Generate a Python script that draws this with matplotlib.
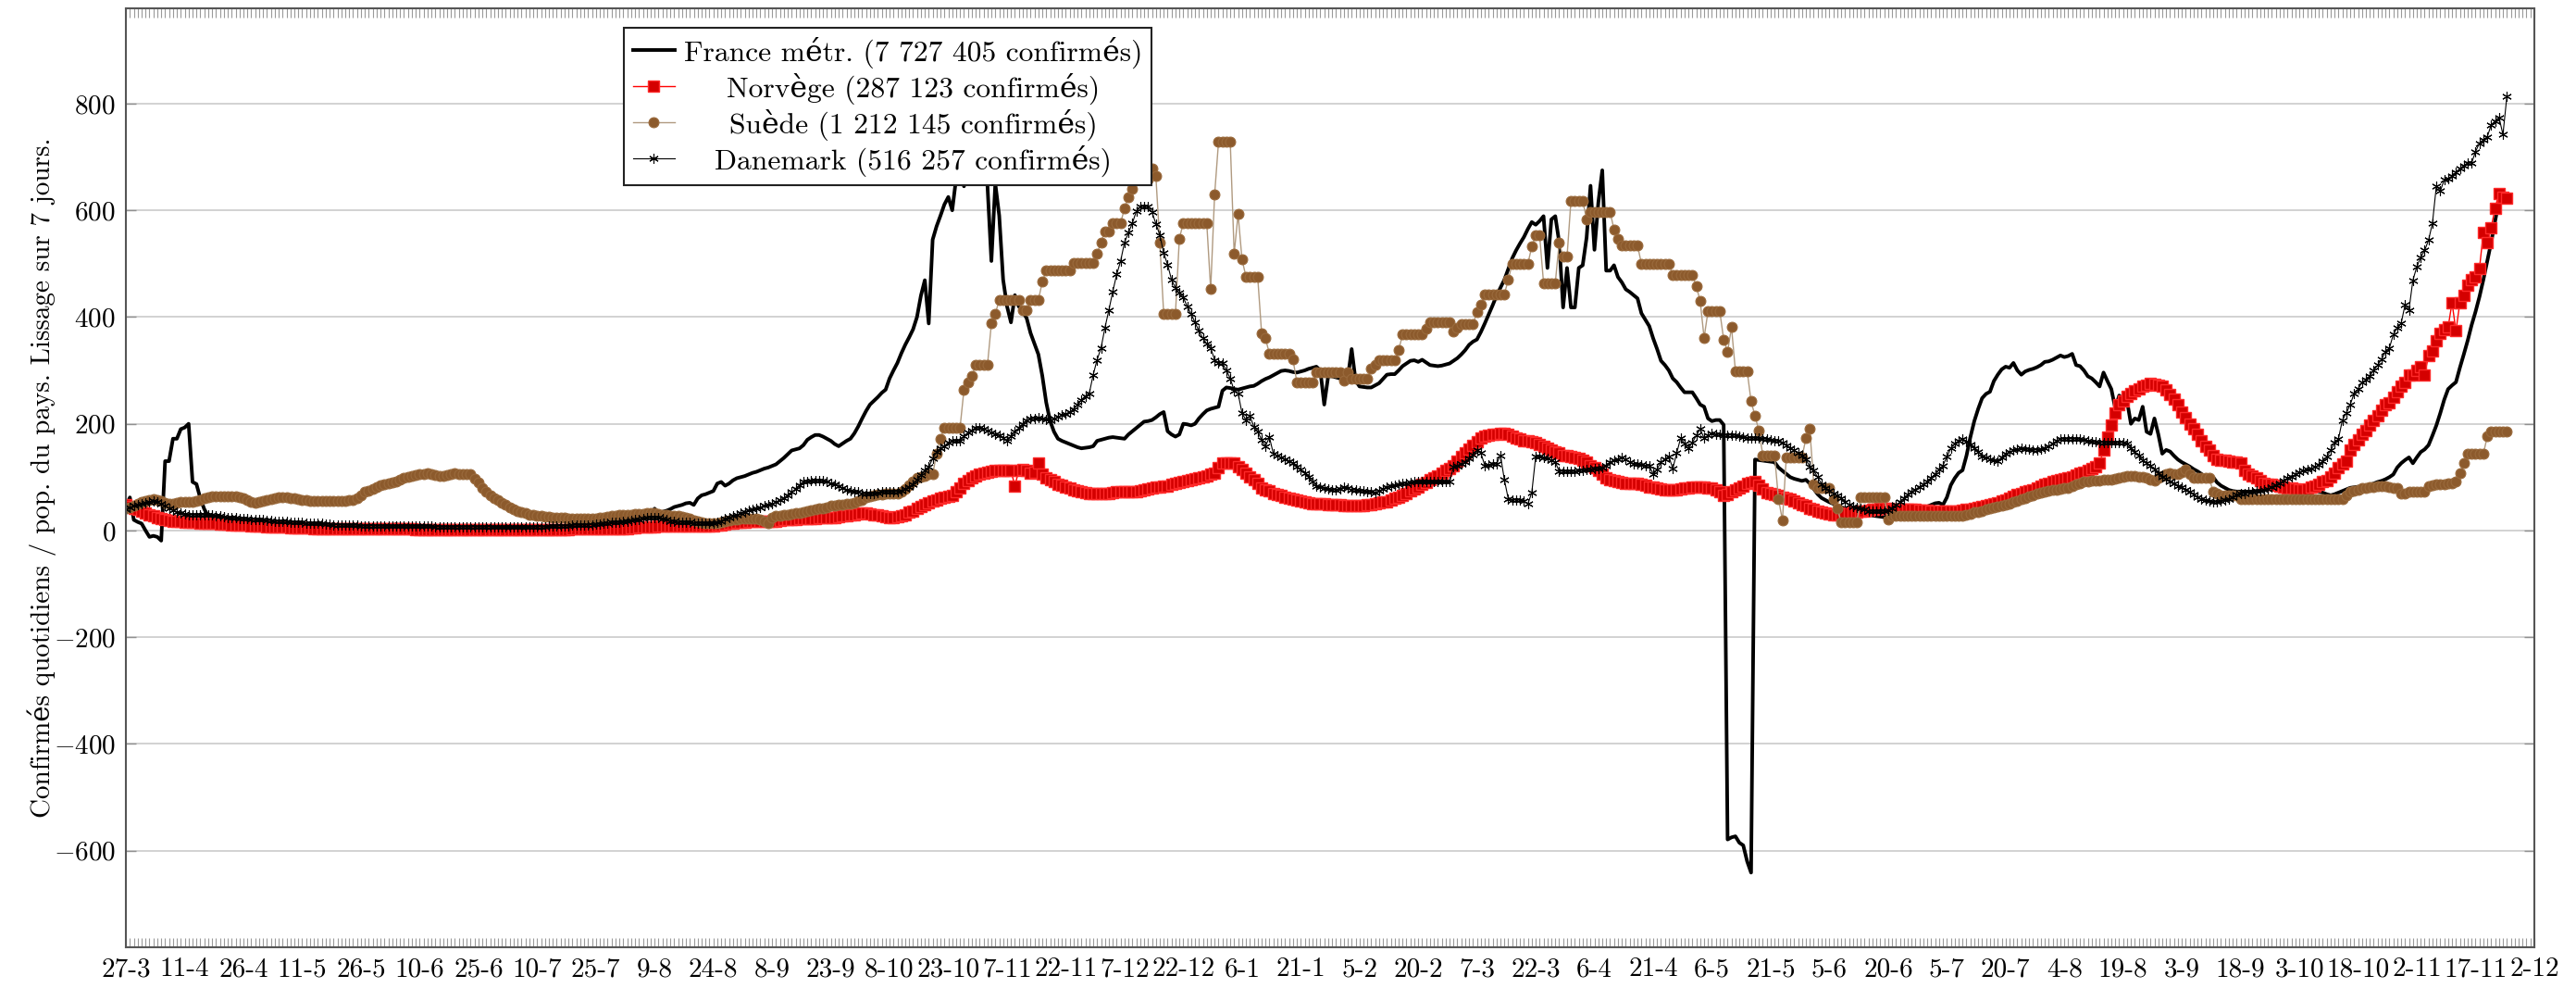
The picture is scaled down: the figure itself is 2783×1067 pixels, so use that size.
import numpy as np
import matplotlib
matplotlib.use('Agg')
import matplotlib.pyplot as plt

plt.rcParams['font.family'] = ['cmr10', 'DejaVu Serif']
plt.rcParams['mathtext.fontset'] = 'cm'
plt.rcParams['axes.formatter.use_mathtext'] = True

# daily values from 27-3-2020, confirmed per million, 7-day smoothing
france = [
    45, 62, 20, 16, 13, 0, -12, -10, -12, -19,
    130, 130, 172, 172, 190, 193, 200, 91, 87, 60,
    40, 27, 26, 25, 24, 23, 22, 21, 20, 19,
    18, 18, 17, 16, 16, 15, 15, 14, 14, 13,
    13, 12, 12, 11, 11, 11, 10, 10, 10, 9,
    9, 9, 9, 8, 8, 8, 8, 7, 7, 7,
    7, 7, 7, 7, 6, 6, 6, 6, 6, 12,
    6, 6, 6, 5, 5, 5, 5, 5, 5, 5,
    5, 5, 5, 5, 5, 5, 5, 5, 6, 6,
    6, 6, 6, 6, 6, 6, 6, 6, 6, 6,
    5, 5, 4, 5, 5, 5, 6, 6, 6, 7,
    7, 7, 8, 8, 8, 8, 9, 9, 9, 10,
    11, 11, 12, 13, 14, 15, 16, 17, 19, 20,
    21, 23, 24, 26, 27, 41, 33, 35, 37, 40,
    44, 46, 48, 51, 52, 48, 60, 66, 68, 71,
    74, 88, 91, 84, 88, 94, 98, 100, 102, 105,
    108, 110, 113, 116, 118, 121, 124, 130, 136, 143,
    150, 152, 154, 160, 170, 175, 179, 179, 176, 172,
    168, 162, 158, 163, 168, 172, 182, 195, 210, 224,
    236, 243, 250, 258, 264, 285, 300, 314, 332, 348,
    362, 377, 400, 440, 469, 388, 545, 570, 590, 611,
    625, 600, 660, 700, 645, 700, 760, 780, 760, 720,
    646, 505, 650, 590, 470, 420, 390, 441, 420, 410,
    398, 370, 350, 330, 290, 240, 205, 185, 172, 168,
    165, 162, 159, 156, 154, 155, 156, 158, 168, 170,
    172, 174, 175, 174, 173, 172, 180, 186, 192, 198,
    204, 205, 207, 212, 218, 222, 186, 180, 176, 180,
    200, 199, 197, 200, 210, 218, 225, 228, 230, 232,
    262, 268, 267, 265, 264, 266, 268, 270, 271, 275,
    280, 284, 287, 291, 295, 299, 300, 299, 297, 296,
    298, 300, 303, 305, 307, 300, 236, 289, 289, 287,
    285, 287, 285, 340, 281, 270, 269, 268, 268, 272,
    276, 284, 292, 293, 293, 300, 308, 313, 318, 319,
    316, 320, 315, 310, 309, 308, 309, 311, 313, 318,
    323, 330, 338, 348, 354, 358, 372, 388, 405, 422,
    440, 455, 470, 490, 510, 525, 538, 550, 565, 578,
    573, 580, 589, 492, 583, 589, 540, 418, 492, 418,
    418, 492, 497, 549, 646, 526, 615, 675, 487, 487,
    497, 475, 465, 452, 447, 441, 435, 407, 395, 383,
    360, 340, 318, 310, 300, 285, 278, 268, 259, 259,
    259, 248, 236, 232, 210, 205, 207, 207, 198, -579,
    -575, -573, -585, -590, -620, -641, 133, 132, 131, 130,
    129, 128, 118, 112, 106, 100, 97, 95, 93, 95,
    88, 78, 68, 61, 57, 53, 50, 47, 44, 41,
    38, 36, 34, 32, 31, 30, 28, 27, 26, 25,
    25, 26, 27, 28, 29, 30, 32, 35, 38, 42,
    45, 48, 51, 52, 48, 62, 85, 98, 108, 113,
    140, 175, 205, 228, 248, 256, 260, 280, 292, 302,
    307, 305, 314, 300, 292, 298, 301, 303, 306, 310,
    316, 317, 320, 324, 328, 325, 327, 331, 310, 308,
    300, 289, 285, 278, 270, 296, 280, 265, 229, 253,
    246, 243, 200, 210, 207, 232, 185, 181, 210, 180,
    144, 151, 148, 140, 133, 128, 124, 120, 115, 111,
    106, 101, 96, 100, 90, 84, 80, 76, 74, 73,
    73, 73, 73, 73, 73, 75, 77, 79, 80, 81,
    82, 83, 84, 83, 82, 81, 80, 78, 76, 75,
    73, 71, 68, 66, 68, 71, 74, 77, 80, 81,
    82, 83, 84, 86, 88, 91, 93, 96, 100, 105,
    118, 126, 132, 137, 126, 137, 147, 152, 160, 178,
    197, 220, 245, 265, 272, 278, 305, 330, 356, 385,
    410, 438, 470, 505, 540, 580, 618, 625, 629,
]

norvege = [
    48, 45, 42, 40, 37, 33, 30, 28, 25, 22,
    20, 19, 18, 17, 17, 16, 16, 15, 15, 14,
    14, 13, 13, 13, 12, 12, 12, 11, 11, 10,
    10, 10, 9, 9, 8, 8, 7, 7, 6, 6,
    6, 6, 5, 5, 5, 5, 5, 5, 4, 4,
    4, 4, 4, 4, 4, 4, 3, 3, 3, 3,
    3, 3, 3, 3, 3, 3, 3, 3, 3, 3,
    3, 3, 3, 3, 2, 2, 2, 2, 2, 2,
    2, 2, 2, 2, 2, 2, 2, 2, 2, 2,
    2, 2, 2, 2, 2, 2, 2, 2, 2, 2,
    2, 2, 2, 2, 2, 2, 2, 2, 2, 2,
    2, 2, 2, 2, 3, 3, 3, 3, 3, 3,
    3, 3, 3, 3, 3, 3, 3, 4, 4, 5,
    5, 6, 6, 7, 7, 7, 8, 8, 8, 8,
    8, 8, 8, 8, 8, 8, 8, 9, 9, 9,
    9, 10, 11, 12, 13, 14, 15, 16, 16, 17,
    17, 17, 17, 18, 18, 18, 18, 19, 20, 20,
    21, 21, 22, 22, 22, 23, 23, 24, 24, 25,
    25, 25, 26, 27, 28, 29, 30, 31, 32, 32,
    31, 30, 29, 27, 26, 25, 25, 26, 28, 30,
    34, 37, 41, 45, 48, 52, 56, 58, 60, 62,
    64, 66, 72, 80, 88, 94, 98, 102, 106, 108,
    110, 111, 112, 112, 112, 112, 112, 84, 112, 115,
    112, 108, 110, 126, 105, 98, 95, 92, 87, 85,
    82, 79, 76, 74, 72, 71, 70, 69, 69, 69,
    69, 70, 71, 72, 73, 73, 73, 73, 73, 74,
    76, 78, 80, 81, 82, 83, 84, 86, 88, 90,
    91, 93, 95, 97, 98, 101, 103, 105, 108, 118,
    126, 126, 126, 126, 120, 115, 108, 100, 95, 88,
    80, 77, 74, 70, 67, 65, 62, 60, 59, 57,
    55, 53, 52, 51, 51, 50, 50, 49, 49, 48,
    48, 47, 47, 46, 46, 46, 47, 48, 49, 50,
    52, 53, 54, 57, 60, 62, 65, 69, 74, 78,
    82, 86, 90, 95, 99, 103, 108, 112, 116, 122,
    130, 138, 145, 152, 160, 167, 173, 176, 179, 180,
    181, 182, 182, 180, 177, 173, 171, 169, 168, 166,
    164, 162, 158, 154, 150, 148, 145, 141, 140, 139,
    137, 135, 131, 128, 122, 117, 112, 105, 99, 95,
    93, 91, 90, 88, 88, 88, 88, 87, 85, 82,
    81, 80, 78, 77, 76, 76, 77, 78, 79, 80,
    81, 82, 82, 81, 80, 79, 76, 72, 65, 68,
    72, 76, 80, 84, 88, 90, 91, 85, 78, 71,
    69, 67, 65, 63, 61, 59, 56, 52, 48, 46,
    42, 39, 37, 35, 33, 31, 30, 30, 31, 32,
    33, 34, 35, 36, 37, 38, 39, 40, 41, 41,
    41, 40, 40, 40, 40, 39, 39, 39, 38, 38,
    38, 37, 37, 37, 36, 36, 36, 37, 37, 38,
    39, 40, 41, 43, 45, 46, 48, 50, 52, 55,
    58, 61, 64, 67, 69, 72, 75, 77, 80, 83,
    86, 88, 91, 93, 95, 97, 98, 101, 104, 108,
    110, 112, 116, 120, 126, 150, 175, 197, 220, 235,
    243, 252, 257, 262, 266, 270, 273, 275, 274, 273,
    270, 264, 255, 246, 235, 222, 212, 200, 190, 180,
    168, 158, 151, 140, 133, 132, 131, 130, 129, 128,
    126, 112, 106, 102, 98, 93, 89, 87, 86, 85,
    84, 82, 80, 79, 78, 77, 76, 78, 81, 84,
    87, 91, 94, 100, 108, 117, 125, 130, 151, 162,
    170, 180, 188, 197, 207, 215, 225, 235, 239, 250,
    261, 270, 278, 292, 292, 300, 307, 292, 328, 337,
    355, 370, 376, 381, 427, 374, 427, 441, 459, 470,
    476, 491, 558, 540, 568, 604, 632, 625, 622,
]

suede = [
    41, 44, 47, 50, 53, 56, 58, 59, 57, 55,
    52, 51, 51, 52, 53, 53, 54, 54, 55, 57,
    60, 62, 64, 64, 64, 64, 64, 64, 64, 63,
    60, 57, 54, 52, 53, 55, 57, 59, 61, 62,
    62, 62, 61, 60, 59, 58, 57, 56, 56, 55,
    55, 55, 55, 55, 56, 56, 56, 57, 57, 60,
    66, 72, 75, 78, 82, 85, 87, 88, 90, 92,
    95, 98, 100, 102, 104, 105, 106, 107, 106, 104,
    103, 103, 104, 106, 107, 106, 106, 105, 105, 97,
    90, 80, 72, 66, 61, 57, 52, 48, 44, 40,
    36, 34, 32, 30, 29, 28, 27, 26, 26, 25,
    25, 24, 24, 23, 23, 23, 22, 22, 22, 23,
    23, 24, 25, 26, 27, 28, 29, 29, 30, 30,
    31, 31, 31, 32, 32, 32, 31, 30, 29, 28,
    27, 27, 26, 24, 22, 19, 17, 15, 14, 13,
    13, 14, 16, 18, 19, 20, 21, 22, 23, 23,
    23, 22, 20, 17, 13, 25, 27, 28, 29, 30,
    31, 32, 32, 34, 36, 38, 40, 41, 42, 44,
    46, 47, 48, 49, 50, 51, 52, 55, 58, 62,
    64, 66, 67, 68, 69, 69, 69, 69, 73, 78,
    85, 92, 98, 101, 103, 105, 105, 144, 172, 193,
    193, 193, 193, 193, 264, 278, 289, 310, 310, 310,
    310, 388, 406, 432, 432, 432, 432, 432, 432, 413,
    413, 432, 432, 432, 466, 487, 487, 487, 487, 487,
    487, 487, 501, 501, 501, 501, 501, 501, 519, 540,
    561, 561, 576, 576, 576, 604, 625, 640, 657, 657,
    657, 657, 678, 664, 540, 406, 406, 406, 406, 547,
    576, 576, 576, 576, 576, 576, 576, 452, 629, 728,
    728, 728, 728, 519, 593, 508, 476, 476, 476, 476,
    370, 360, 331, 331, 331, 331, 331, 331, 321, 278,
    278, 278, 278, 278, 296, 296, 296, 296, 296, 296,
    296, 281, 297, 284, 284, 284, 284, 284, 304, 310,
    319, 319, 319, 319, 319, 338, 367, 367, 367, 367,
    367, 367, 378, 390, 390, 390, 390, 390, 390, 373,
    380, 386, 386, 386, 386, 410, 424, 443, 443, 443,
    443, 443, 443, 470, 500, 500, 500, 500, 500, 532,
    553, 553, 464, 464, 464, 464, 540, 513, 513, 618,
    618, 618, 618, 583, 597, 597, 597, 597, 597, 597,
    564, 546, 534, 534, 534, 534, 534, 500, 500, 500,
    500, 500, 500, 500, 500, 479, 479, 479, 479, 479,
    479, 458, 430, 361, 411, 411, 411, 411, 358, 335,
    381, 299, 299, 299, 299, 242, 215, 187, 141, 141,
    141, 141, 59, 19, 137, 137, 137, 137, 137, 173,
    190, 87, 80, 80, 80, 80, 59, 41, 16, 16,
    16, 16, 16, 62, 62, 62, 62, 62, 62, 62,
    20, 27, 27, 27, 27, 27, 27, 27, 27, 27,
    27, 27, 27, 27, 27, 27, 27, 27, 27, 27,
    29, 31, 34, 35, 37, 39, 41, 43, 45, 47,
    48, 50, 53, 56, 59, 61, 64, 66, 69, 71,
    73, 75, 76, 77, 78, 79, 80, 83, 86, 89,
    91, 92, 93, 94, 94, 95, 95, 96, 97, 99,
    101, 103, 103, 102, 101, 100, 98, 96, 93, 99,
    103, 105, 108, 105, 105, 110, 115, 105, 98, 98,
    98, 98, 98, 73, 70, 66, 66, 66, 66, 66,
    59, 59, 59, 59, 59, 59, 59, 59, 59, 59,
    59, 59, 59, 59, 59, 59, 59, 59, 59, 59,
    59, 59, 59, 59, 59, 59, 59, 66, 73, 75,
    77, 79, 80, 81, 82, 84, 84, 84, 82, 80,
    79, 69, 70, 72, 73, 73, 73, 73, 84, 85,
    86, 87, 87, 88, 89, 91, 108, 126, 144, 144,
    144, 144, 144, 176, 186, 186, 186, 186, 186,
]

danemark = [
    40, 43, 46, 48, 50, 52, 54, 55, 53, 50,
    46, 42, 38, 35, 32, 31, 30, 30, 29, 29,
    29, 29, 29, 28, 27, 26, 25, 24, 24, 23,
    23, 22, 21, 21, 20, 20, 19, 19, 18, 18,
    17, 17, 16, 16, 15, 15, 14, 14, 13, 13,
    13, 12, 12, 11, 11, 11, 10, 10, 10, 10,
    9, 9, 9, 9, 9, 9, 8, 8, 8, 8,
    8, 8, 8, 8, 8, 8, 8, 8, 8, 7,
    7, 7, 7, 7, 7, 7, 7, 7, 7, 7,
    7, 7, 7, 7, 6, 6, 6, 6, 6, 6,
    6, 6, 6, 6, 7, 7, 7, 7, 8, 8,
    8, 9, 9, 9, 10, 10, 10, 11, 11, 11,
    12, 12, 13, 14, 15, 16, 16, 17, 18, 19,
    20, 21, 23, 24, 25, 25, 24, 22, 20, 18,
    17, 16, 16, 15, 15, 14, 14, 14, 13, 13,
    13, 15, 18, 22, 24, 27, 30, 32, 35, 38,
    40, 42, 44, 46, 48, 50, 53, 57, 61, 66,
    72, 78, 85, 91, 92, 93, 93, 94, 93, 91,
    89, 87, 84, 80, 77, 74, 73, 72, 70, 69,
    69, 70, 71, 72, 73, 73, 73, 73, 75, 78,
    82, 87, 95, 104, 112, 119, 135, 147, 154, 158,
    165, 168, 168, 168, 176, 183, 188, 193, 192, 190,
    187, 184, 181, 179, 173, 168, 176, 185, 192, 200,
    207, 209, 210, 211, 209, 208, 207, 209, 213, 216,
    218, 222, 228, 236, 245, 252, 257, 292, 320, 342,
    380, 413, 448, 480, 505, 540, 558, 576, 598, 607,
    608, 607, 597, 575, 554, 520, 498, 470, 455, 445,
    437, 420, 406, 390, 374, 360, 350, 342, 320, 314,
    314, 300, 285, 262, 257, 220, 207, 215, 195, 186,
    170, 158, 175, 144, 140, 137, 134, 130, 126, 120,
    114, 108, 100, 92, 84, 82, 80, 78, 77, 76,
    78, 82, 79, 76, 76, 75, 74, 73, 72, 71,
    74, 78, 82, 84, 85, 86, 88, 89, 90, 91,
    91, 91, 91, 91, 91, 91, 91, 91, 91, 119,
    122, 125, 128, 135, 142, 150, 145, 122, 123, 124,
    125, 141, 95, 59, 58, 58, 57, 55, 50, 71,
    139, 138, 137, 135, 132, 128, 111, 111, 111, 111,
    111, 112, 113, 114, 115, 116, 116, 118, 122, 128,
    131, 134, 137, 133, 129, 125, 124, 123, 122, 122,
    105, 115, 128, 134, 139, 116, 145, 173, 163, 154,
    165, 178, 190, 173, 178, 182, 181, 180, 179, 179,
    179, 179, 177, 175, 174, 174, 173, 173, 172, 171,
    170, 169, 168, 165, 160, 155, 150, 145, 140, 133,
    120, 112, 100, 87, 80, 75, 70, 66, 60, 54,
    49, 45, 43, 41, 39, 37, 36, 36, 36, 36,
    38, 42, 48, 53, 60, 67, 73, 77, 82, 86,
    91, 98, 106, 114, 122, 138, 154, 163, 168, 172,
    167, 161, 154, 148, 139, 137, 134, 131, 130, 137,
    144, 147, 150, 152, 154, 153, 152, 151, 151, 153,
    155, 158, 163, 168, 172, 172, 172, 172, 172, 171,
    170, 168, 167, 166, 165, 165, 165, 165, 165, 165,
    165, 163, 155, 147, 140, 132, 126, 122, 115, 108,
    101, 97, 92, 89, 84, 81, 77, 73, 68, 63,
    59, 57, 55, 53, 54, 56, 58, 59, 63, 67,
    69, 70, 72, 73, 74, 75, 76, 78, 82, 85,
    89, 94, 98, 101, 105, 109, 112, 114, 116, 119,
    123, 130, 138, 150, 164, 172, 207, 220, 236, 257,
    265, 278, 282, 290, 300, 310, 321, 335, 342, 367,
    380, 388, 423, 413, 469, 494, 512, 525, 544, 576,
    646, 636, 657, 660, 664, 671, 678, 684, 689, 689,
    710, 726, 732, 738, 760, 767, 774, 742, 813,
]

tick_labels = ['27-3', '11-4', '26-4', '11-5', '26-5', '10-6', '25-6', '10-7',
               '25-7', '9-8', '24-8', '8-9', '23-9', '8-10', '23-10', '7-11',
               '22-11', '7-12', '22-12', '6-1', '21-1', '5-2', '20-2', '7-3',
               '22-3', '6-4', '21-4', '6-5', '21-5', '5-6', '20-6', '5-7',
               '20-7', '4-8', '19-8', '3-9', '18-9', '3-10', '18-10', '2-11',
               '17-11', '2-12']

labels = ['France métr. (7 727 405 confirmés)',
          'Norvège (287 123 confirmés)',
          'Suède (1 212 145 confirmés)',
          'Danemark (516 257 confirmés)']

fig = plt.figure(figsize=(27.83, 10.67), dpi=100)
ax = fig.add_axes([0.0489, 0.0412, 0.9349, 0.9501])

ax.plot(np.arange(len(france)), france, color='black', lw=2.8, label=labels[0])
ax.plot(np.arange(len(norvege)), norvege, color='red', lw=1.0, marker='s',
        ms=8, mfc='#d40000', mec='#ff2a2a', mew=1.0, label=labels[1])
ax.plot(np.arange(len(suede)), suede, color='#b09a80', lw=1.0, marker='o',
        ms=7.8, mfc='#8c5a2c', mec='#9a6a3c', mew=0.8, label=labels[2])
ax.plot(np.arange(len(danemark)), danemark, color='black', lw=0.8,
        marker=(6, 2, 0), ms=7.5, mew=0.8, label=labels[3])

step = 15
ax.set_xticks(np.arange(len(tick_labels)) * step, tick_labels)
ax.set_xticks(np.arange(0, (len(tick_labels) - 1) * step + 1), minor=True)
ax.set_xlim(0, (len(tick_labels) - 1) * step)
ax.set_ylim(-781, 978)
ax.set_yticks([-600, -400, -200, 0, 200, 400, 600, 800])

ax.yaxis.grid(True, color='#cfcfcf', lw=1.3)
ax.set_axisbelow(True)
ax.tick_params(axis='x', which='both', direction='in', top=True, bottom=True,
               length=7, width=0.8, color='#9a9a9a', labelsize=21, pad=8)
ax.tick_params(axis='y', which='major', direction='in', left=True, right=True,
               length=8, width=1.0, color='#909090', labelsize=21, pad=8)
for s in ax.spines.values():
    s.set_color('#555555')
    s.set_linewidth(1.5)

ax.set_ylabel('Confirmés quotidiens / pop. du pays. Lissage sur 7 jours.', fontsize=21)
ax.yaxis.set_label_coords(-0.029, 0.5)

leg = ax.legend(loc='upper left', bbox_to_anchor=(0.2068, 0.9796), borderaxespad=0,
                fontsize=22.7, numpoints=1, handlelength=1.45, handletextpad=0.3,
                labelspacing=0.15, borderpad=0.3, fancybox=False, framealpha=1,
                edgecolor='#222222')
leg.get_frame().set_linewidth(1.5)

# centre the legend texts like the original
fig.canvas.draw()
texts = leg.get_texts()
widths = [t.get_window_extent().width for t in texts]
for t, w in zip(texts, widths):
    t.set_x((max(widths) - w) / 2)

fig.savefig('out.png', dpi=100)
